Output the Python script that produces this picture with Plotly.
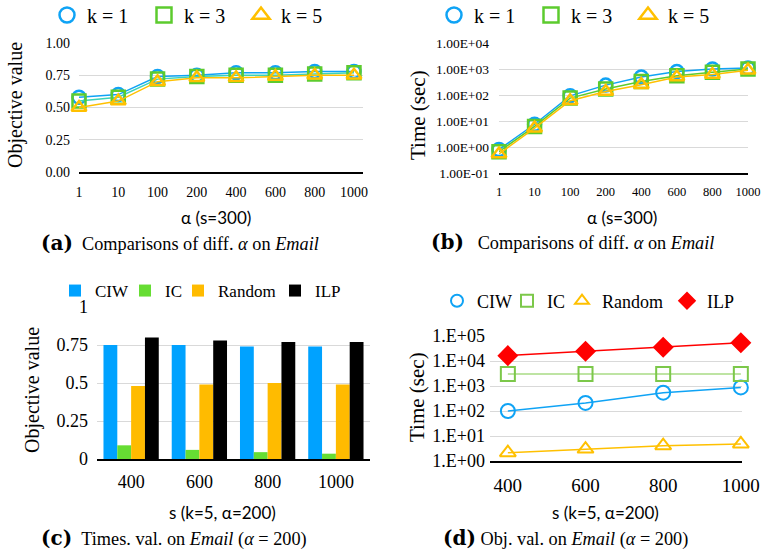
import plotly.graph_objects as go

W, H = 763, 552

# ---------------- data ----------------
alpha_cats = ["1", "10", "100", "200", "400", "600", "800", "1000"]
obj_k1 = [0.58, 0.60, 0.74, 0.75, 0.77, 0.77, 0.78, 0.78]
obj_k3 = [0.55, 0.58, 0.72, 0.74, 0.75, 0.75, 0.76, 0.77]
obj_k5 = [0.50, 0.55, 0.70, 0.73, 0.73, 0.74, 0.75, 0.75]

time_k1 = [0.8, 7.5, 93, 240, 490, 800, 1000, 1100]
time_k3 = [0.66, 6.2, 76, 170, 330, 550, 750, 1000]
time_k5 = [0.54, 5.3, 60, 137, 250, 490, 610, 890]

s_cats = ["400", "600", "800", "1000"]
bar_ciw = [0.75, 0.75, 0.74, 0.74]
bar_ic = [0.09, 0.06, 0.045, 0.035]
bar_random = [0.48, 0.49, 0.50, 0.49]
bar_ilp = [0.80, 0.78, 0.77, 0.77]

s_vals = [400, 600, 800, 1000]
t_ciw = [100, 210, 540, 880]
t_ic = [3000, 3000, 3000, 3000]
t_random = [2.15, 3.0, 4.1, 4.8]
t_ilp = [16400, 24500, 35500, 54000]

obj_ticks = [0, 0.25, 0.5, 0.75, 1.0]
obj_ticktext_a = ["0.00", "0.25", "0.50", "0.75", "1.00"]
obj_ticktext_c = ["0", "0.25", "0.5", "0.75", "1"]
log_ticks_b = [0.1, 1, 10, 100, 1000, 10000]
log_ticktext_b = ["1.00E-01", "1.00E+00", "1.00E+01", "1.00E+02", "1.00E+03", "1.00E+04"]
log_ticks_d = [1, 10, 100, 1000, 10000, 100000]
log_ticktext_d = ["1.E+00", "1.E+01", "1.E+02", "1.E+03", "1.E+04", "1.E+05"]

# ---------------- colors ----------------
BLUE = "#0FA3F5"
GREEN = "#5CCB2E"
TEAL = "#3BD3B8"
ORANGE = "#FFC000"
LGREEN = "#A9DB85"
RED = "#FF0000"
GRID = "#D9D9D9"

SERIF = "Liberation Serif"
SANS = "Lato"


def px(x):
    return x / W


def py(y):
    return 1 - y / H


fig = go.Figure()

# ---------- (a) objective vs alpha ----------
for ys, col, lcol, sym in [(obj_k1, BLUE, BLUE, "circle-open"),
                           (obj_k3, GREEN, TEAL, "square-open"),
                           (obj_k5, ORANGE, ORANGE, "triangle-up-open")]:
    fig.add_trace(go.Scatter(x=alpha_cats, y=ys, mode="lines+markers",
                             line=dict(color=lcol, width=1.5),
                             marker=dict(symbol=sym, size=13, color=col, line=dict(width=2.5, color=col)),
                             xaxis="x", yaxis="y", showlegend=False, cliponaxis=False))
for name, col, sym in [("k = 1", BLUE, "circle-open"), ("k = 3", GREEN, "square-open"),
                       ("k = 5", ORANGE, "triangle-up-open")]:
    fig.add_trace(go.Scatter(x=[None], y=[None], mode="markers", name=name, legendwidth=52,
                             marker=dict(symbol=sym, size=15, color=col, line=dict(width=2.5, color=col)),
                             xaxis="x", yaxis="y", legend="legend"))

# ---------- (b) time vs alpha ----------
for ys, col, lcol, sym in [(time_k1, BLUE, BLUE, "circle-open"),
                           (time_k3, GREEN, GREEN, "square-open"),
                           (time_k5, ORANGE, ORANGE, "triangle-up-open")]:
    fig.add_trace(go.Scatter(x=alpha_cats, y=ys, mode="lines+markers",
                             line=dict(color=lcol, width=1.5),
                             marker=dict(symbol=sym, size=13, color=col, line=dict(width=2.5, color=col)),
                             xaxis="x2", yaxis="y2", showlegend=False, cliponaxis=False))
for name, col, sym in [("k = 1", BLUE, "circle-open"), ("k = 3", GREEN, "square-open"),
                       ("k = 5", ORANGE, "triangle-up-open")]:
    fig.add_trace(go.Scatter(x=[None], y=[None], mode="markers", name=name, legendwidth=52,
                             marker=dict(symbol=sym, size=15, color=col, line=dict(width=2.5, color=col)),
                             xaxis="x2", yaxis="y2", legend="legend2"))

# ---------- (c) bars ----------
for name, ys, col, lw in [("CIW", bar_ciw, "#00A2FF", 25), ("IC", bar_ic, "#66DD33", 8),
                          ("Random", bar_random, "#FFBB00", 52), ("ILP", bar_ilp, "#000000", 30)]:
    fig.add_trace(go.Bar(x=s_cats, y=ys, name=name, marker=dict(color=col, line=dict(width=0)),
                         legendwidth=lw, xaxis="x3", yaxis="y3", legend="legend3"))

# ---------- (d) time vs s ----------
for name, ys, col, lcol, sym, lw in [("CIW", t_ciw, BLUE, BLUE, "circle-open", 25),
                                     ("IC", t_ic, "#7CC84A", LGREEN, "square-open", 10),
                                     ("Random", t_random, ORANGE, ORANGE, "triangle-up-open", 60),
                                     ("ILP", t_ilp, RED, RED, "diamond", 30)]:
    fig.add_trace(go.Scatter(x=s_vals, y=ys, mode="lines+markers",
                             line=dict(color=lcol, width=1.5),
                             marker=dict(symbol=sym, size=14, color=col, line=dict(width=2, color=col)),
                             xaxis="x4", yaxis="y4", showlegend=False, cliponaxis=False))
    fig.add_trace(go.Scatter(x=[None], y=[None], mode="markers", name=name, legendwidth=lw,
                             marker=dict(symbol=sym, size=12, color=col, line=dict(width=2, color=col)),
                             xaxis="x4", yaxis="y4", legend="legend4"))

axis_common = dict(showgrid=False, zeroline=False, ticks="", fixedrange=True, automargin=False)
ygrid = dict(showgrid=True, gridcolor=GRID, gridwidth=1, zeroline=False, ticks="", showline=False,
             automargin=False, fixedrange=True)

fig.update_layout(
    width=W, height=H, margin=dict(l=0, r=0, t=0, b=0, autoexpand=False),
    paper_bgcolor="white", plot_bgcolor="white",
    font=dict(family=SERIF, color="#000000"),
    barmode="group", bargap=0.19, bargroupgap=0,
    xaxis=dict(domain=[px(79), px(363)], anchor="y", type="category", range=[0, 7.23],
               showline=True, linecolor="#000000", linewidth=1.5,
               tickfont=dict(size=14, family=SERIF), ticklabelstandoff=6, **axis_common),
    yaxis=dict(domain=[py(172), py(43)], anchor="x", range=[0, 1], tickvals=obj_ticks,
               ticktext=obj_ticktext_a, tickfont=dict(size=14, family=SERIF), ticklabelstandoff=8, **ygrid),
    xaxis2=dict(domain=[px(499), px(748)], anchor="y2", type="category", range=[0, 7],
                showline=True, linecolor="#000000", linewidth=1.5,
                tickfont=dict(size=12.5, family=SERIF), ticklabelstandoff=6, **axis_common),
    yaxis2=dict(domain=[py(173), py(43)], anchor="x2", type="log", range=[-1, 4], tickvals=log_ticks_b,
                ticktext=log_ticktext_b, tickfont=dict(size=13.5, family=SERIF), ticklabelstandoff=9, **ygrid),
    xaxis3=dict(domain=[px(97), px(370)], anchor="y3", type="category",
                showline=True, linecolor="#000000", linewidth=1.5,
                tickfont=dict(size=18, family=SERIF), ticklabelstandoff=6, **axis_common),
    yaxis3=dict(domain=[py(459), py(307)], anchor="x3", range=[0, 1], tickvals=obj_ticks,
                ticktext=obj_ticktext_c, tickfont=dict(size=18, family=SERIF), ticklabelstandoff=8, **ygrid),
    xaxis4=dict(domain=[px(490), px(742)], anchor="y4", range=[354, 1003], tickvals=s_vals,
                showline=True, linecolor="#000000", linewidth=1.5,
                tickfont=dict(size=19, family=SERIF), ticklabelstandoff=6, **axis_common),
    yaxis4=dict(domain=[py(461), py(336)], anchor="x4", type="log", range=[0, 5], tickvals=log_ticks_d,
                ticktext=log_ticktext_d, tickfont=dict(size=18, family=SERIF), ticklabelstandoff=4, **ygrid),
    legend=dict(orientation="h", x=px(47), y=py(15), xanchor="left", yanchor="middle",
                font=dict(size=20, family=SERIF), itemwidth=30, bgcolor="rgba(0,0,0,0)"),
    legend2=dict(orientation="h", x=px(434), y=py(15), xanchor="left", yanchor="middle",
                 font=dict(size=20, family=SERIF), itemwidth=30, bgcolor="rgba(0,0,0,0)"),
    legend3=dict(orientation="h", x=px(55), y=py(291), xanchor="left", yanchor="middle",
                 font=dict(size=17, family=SERIF), itemwidth=30, bgcolor="rgba(0,0,0,0)"),
    legend4=dict(orientation="h", x=px(437), y=py(301), xanchor="left", yanchor="middle",
                 font=dict(size=18, family=SERIF), itemwidth=30, bgcolor="rgba(0,0,0,0)"),
)

ann = []


def add_text(text, x, y, size, family, angle=0, xanchor="center"):
    ann.append(dict(text=text, x=px(x), y=py(y), xref="paper", yref="paper", showarrow=False,
                    xanchor=xanchor, yanchor="middle", textangle=angle, borderpad=0,
                    font=dict(size=size, family=family, color="#000000")))


add_text("Objective value", 15, 105, 20, SERIF, -90)
add_text("Time (sec)", 418, 115, 21, SERIF, -90)
add_text("Objective value", 32, 390, 20, SERIF, -90)
add_text("Time (sec)", 417, 397, 21, SERIF, -90)

add_text("α (s=300)", 216, 217, 17, SANS)
add_text("α (s=300)", 622, 217, 17, SANS)
add_text("s (k=5, α=200)", 222, 512, 17, SANS)
add_text("s (k=5, α=200)", 605, 512, 17, SANS)


def cap(letter, gap):
    return ('<span style="font-size:20px;font-family:DejaVu Serif;font-weight:bold">(' + letter + ')</span>'
            + "&nbsp;" * gap)


add_text(cap("a", 2) + "Comparisons of diff. <i>α</i> on <i>Email</i>", 40, 243, 18.3, SERIF, xanchor="left")
add_text(cap("b", 3) + "Comparisons of diff. <i>α</i> on <i>Email</i>", 430, 242, 18.3, SERIF, xanchor="left")
add_text(cap("c", 2) + "Times. val. on <i>Email</i> (<i>α</i> = 200)", 40, 538, 18.3, SERIF, xanchor="left")
add_text(cap("d", 1) + "Obj. val. on <i>Email</i> (<i>α</i> = 200)", 442, 538, 18.3, SERIF, xanchor="left")

fig.update_layout(annotations=ann)

fig.write_html("out.html")
